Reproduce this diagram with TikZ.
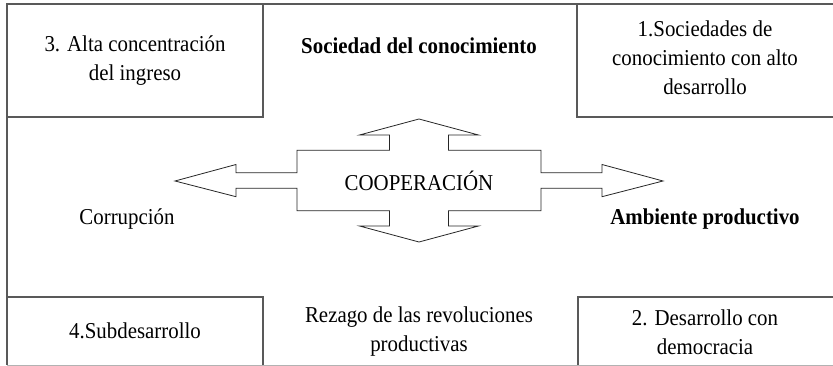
\documentclass[tikz,border=0pt]{standalone}
\usepackage{fontspec}
\setmainfont{Liberation Serif}[FakeStretch=0.92]
\begin{document}
\begin{tikzpicture}[x=1pt,y=-1pt,
  frame/.style={draw=black!65, line width=1.3pt},
  lastline/.style={draw=black!30, line width=0.8pt},
  txt/.style={align=center, font=\fontsize{22.7}{29}\selectfont, inner sep=0pt},
  btxt/.style={txt, font=\fontsize{22.7}{29}\selectfont\bfseries},
  coop/.style={draw=black!85, line width=0.8pt, fill=white, line join=miter}]
\useasboundingbox (0,0) rectangle (833,366);
\clip (0,0) rectangle (833,366);
% outer frame
\draw[frame] (7,365) -- (7,4) -- (845,4) -- (845,365);
\draw[lastline] (7,365) -- (845,365);
% corner boxes
\draw[frame] (7,117) -- (263,117) -- (263,4);
\draw[frame] (845,117) -- (577,117) -- (577,4);
\draw[frame] (7,297) -- (263,297) -- (263,365);
\draw[frame] (845,297) -- (578,297) -- (578,365);
% cooperation cross arrow
\draw[coop] (175,181) -- (236,164.5) -- (236,172.7) -- (297,172.7) -- (297,150.2)
  -- (389.5,150.2) -- (389.5,135) -- (359.5,135) -- (419,119) -- (478.5,135)
  -- (448.5,135) -- (448.5,150.2) -- (541,150.2) -- (541,172.7) -- (602,172.7)
  -- (602,164.5) -- (663,181) -- (602,196.7) -- (602,188.3) -- (541,188.3)
  -- (541,210.8) -- (448.5,210.8) -- (448.5,226) -- (478.5,226) -- (419,242)
  -- (359.5,226) -- (389.5,226) -- (389.5,210.8) -- (297,210.8) -- (297,188.3)
  -- (236,188.3) -- (236,196.7) -- cycle;
% texts
\node[txt] (t3) at (135,61) {3. Alta concentración\\del ingreso};
\node[btxt] (tsoc) at (419,46) {Sociedad del conocimiento};
\node[txt] (t1) at (705,58) {1.Sociedades de\\conocimiento con alto\\desarrollo};
\node[txt] (tcoop) at (419,181) {COOPERACIÓN};
\node[txt] (tcor) at (127,219) {Corrupción};
\node[btxt] (tamb) at (705,219) {Ambiente productivo};
\node[txt] (t4) at (135,331) {4.Subdesarrollo};
\node[txt] (trez) at (419,332) {Rezago de las revoluciones\\productivas};
\node[txt] (t2) at (705,332) {2. Desarrollo con\\democracia};
\end{tikzpicture}
\end{document}
